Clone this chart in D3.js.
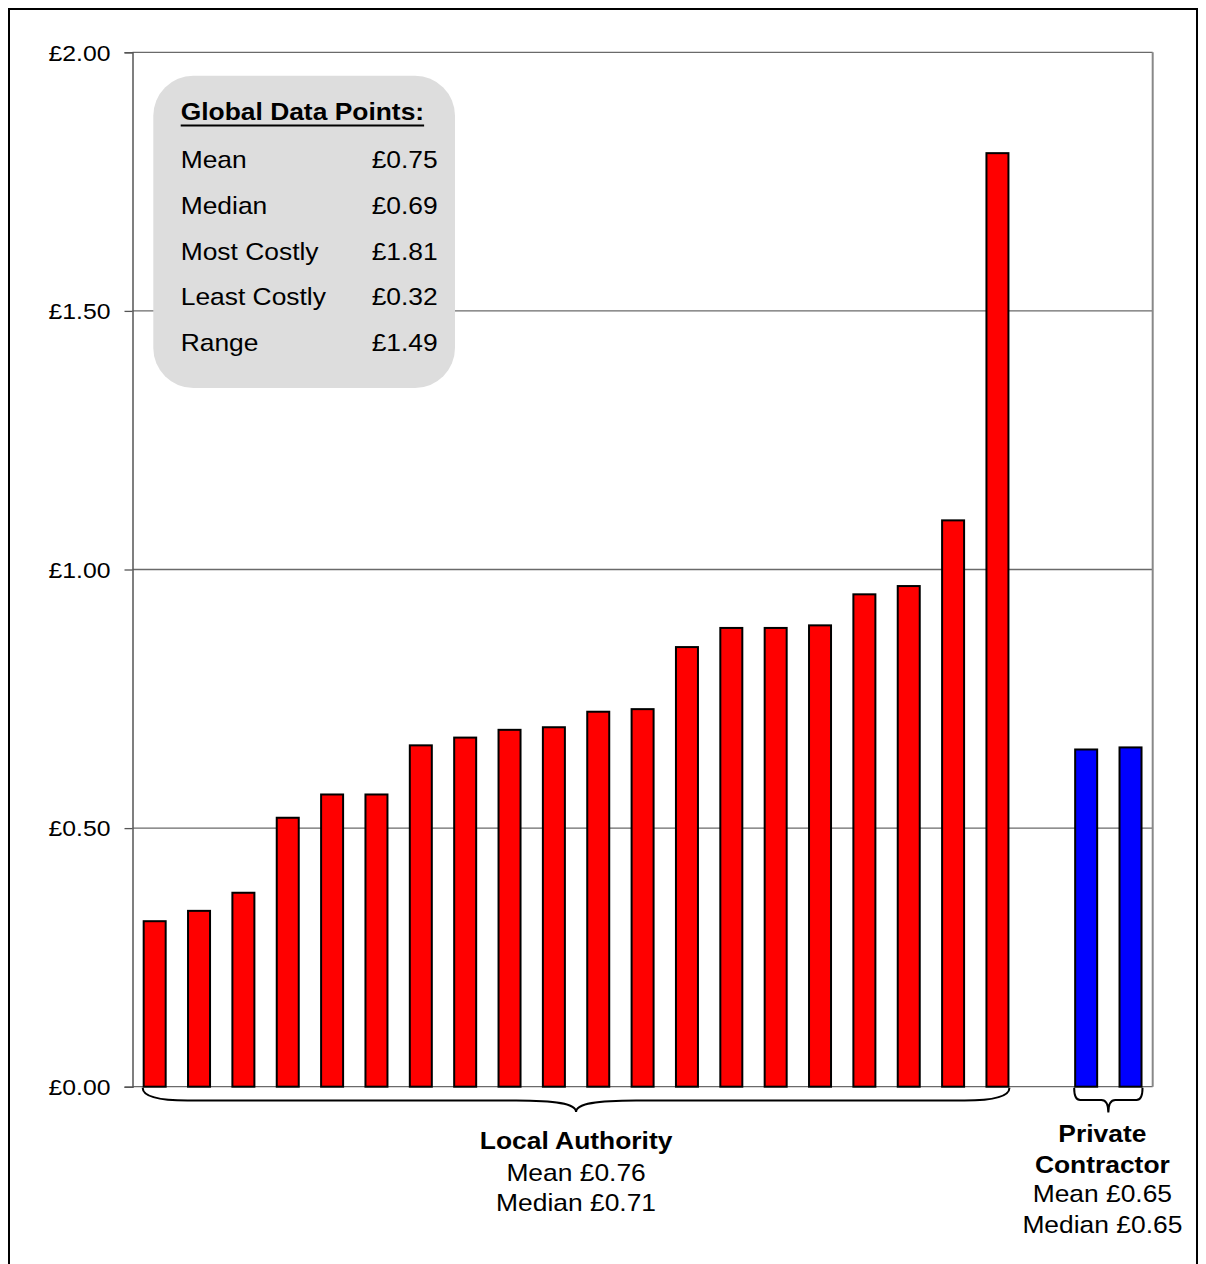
<!DOCTYPE html>
<html>
<head>
<meta charset="utf-8">
<script src="https://cdn.jsdelivr.net/npm/d3@7"></script>
<style>
  html, body { margin: 0; padding: 0; background: #fff; }
  svg { display: block; }
  text { font-family: "Liberation Sans", Arial, sans-serif; fill: #000; }
</style>
</head>
<body>
<svg id="chart" width="1206" height="1264"></svg>
<script>
// ---- data ----
const laCategories = ["LA1","LA2","LA3","LA4","LA5","LA6","LA7","LA8","LA9","LA10",
                      "LA11","LA12","LA13","LA14","LA15","LA16","LA17","LA18","LA19","LA20"];
const laValues = [0.32, 0.34, 0.375, 0.52, 0.565, 0.565, 0.66, 0.675, 0.69, 0.695,
                  0.725, 0.73, 0.85, 0.887, 0.887, 0.892, 0.952, 0.968, 1.095, 1.805];
const pcCategories = ["PC1","PC2"];
const pcValues = [0.652, 0.656];
const gapCategory = ["gap"];
const yTicks = [0, 0.5, 1.0, 1.5, 2.0];
const statLabels = ["Mean", "Median", "Most Costly", "Least Costly", "Range"];
const statValues = ["£0.75", "£0.69", "£1.81", "£0.32", "£1.49"];
const laSummary = ["Local Authority", "Mean £0.76", "Median £0.71"];
const pcSummary = ["Private", "Contractor", "Mean £0.65", "Median £0.65"];

// ---- layout ----
const SX = 1.1;
const plotL = 132.5, plotR = 1152.7, plotT = 52.3, plotB = 1086.7;
const svg = d3.select("#chart");

// outer border
svg.append("rect").attr("x", 9).attr("y", 9).attr("width", 1188).attr("height", 1300)
  .attr("fill", "none").attr("stroke", "#000").attr("stroke-width", 2);

const categories = laCategories.concat(gapCategory, pcCategories);
const x = d3.scaleBand().domain(categories).range([plotL, plotR])
  .paddingInner(0.504).paddingOuter(0.252);
const y = d3.scaleLinear().domain([0, 2]).range([plotB, plotT]);

function txt(sel, px, py, s, size, weight, anchor) {
  return sel.append("text")
    .attr("transform", `translate(${px},${py}) scale(${SX},1)`)
    .attr("text-anchor", anchor || "start")
    .style("font-size", size + "px")
    .style("font-weight", weight || "normal")
    .text(s);
}

// gridlines
svg.append("g").selectAll("line").data(yTicks).join("line")
  .attr("x1", plotL).attr("x2", plotR)
  .attr("y1", d => y(d)).attr("y2", d => y(d))
  .attr("stroke", "#6a6a6a").attr("stroke-width", 1.3);
// right border of plot
svg.append("line").attr("x1", plotR).attr("x2", plotR).attr("y1", y(2)).attr("y2", y(0))
  .attr("stroke", "#888").attr("stroke-width", 2);

// axis
const axis = svg.append("g").attr("transform", `translate(${plotL},0)`)
  .call(d3.axisLeft(y).tickValues(yTicks).tickSize(8).tickFormat(d => "£" + d.toFixed(2)));
axis.select(".domain").attr("stroke", "#555").attr("stroke-width", 1.5);
axis.selectAll(".tick line").attr("stroke", "#555").attr("stroke-width", 1.3);
axis.selectAll(".tick text")
  .attr("x", -22 / SX).attr("dy", "0.35em")
  .attr("transform", `scale(${SX},1)`)
  .style("font-size", "22.5px")
  .style("font-family", '"Liberation Sans", Arial, sans-serif')
  .attr("fill", "#000");

// info box
const box = svg.append("g");
box.append("rect").attr("x", 153.3).attr("y", 75.7).attr("width", 301.7).attr("height", 312.3)
  .attr("rx", 40).attr("ry", 40).attr("fill", "#dddddd");
const hdr = txt(box, 180.7, 120, "Global Data Points:", 24, "bold");
const hw = hdr.node().getComputedTextLength() * SX;
box.append("line").attr("x1", 180.7).attr("x2", 180.7 + hw).attr("y1", 125.5).attr("y2", 125.5)
  .attr("stroke", "#000").attr("stroke-width", 2);
statLabels.forEach((s, i) => {
  txt(box, 180.7, 168.3 + i * 45.6, s, 24, "normal", "start");
  txt(box, 437.7, 168.3 + i * 45.6, statValues[i], 24, "normal", "end");
});

// bars
const bw = x.bandwidth();
svg.append("g").selectAll("rect").data(laValues).join("rect")
  .attr("x", (d, i) => x(laCategories[i]))
  .attr("width", bw)
  .attr("y", d => y(d))
  .attr("height", d => y(0) - y(d))
  .attr("fill", "#ff0000").attr("stroke", "#000").attr("stroke-width", 2);
svg.append("g").selectAll("rect").data(pcValues).join("rect")
  .attr("x", (d, i) => x(pcCategories[i]))
  .attr("width", bw)
  .attr("y", d => y(d))
  .attr("height", d => y(0) - y(d))
  .attr("fill", "#0000ff").attr("stroke", "#000").attr("stroke-width", 2);

// braces
function bigBrace(x1, x2, y0, yh, ytip, r, tw) {
  const mid = (x1 + x2) / 2;
  return `M${x1},${y0} Q${x1},${yh} ${x1 + r},${yh} L${mid - tw},${yh} ` +
         `C${mid - tw * 0.35},${yh} ${mid},${yh + 3} ${mid},${ytip} ` +
         `C${mid},${yh + 3} ${mid + tw * 0.35},${yh} ${mid + tw},${yh} ` +
         `L${x2 - r},${yh} Q${x2},${yh} ${x2},${y0}`;
}
const laX1 = x(laCategories[0]) - 1, laX2 = x(laCategories[laCategories.length - 1]) + bw + 1;
svg.append("path").attr("d", bigBrace(laX1, laX2, y(0) + 1, 1100.5, 1112, 45, 60))
  .attr("fill", "none").attr("stroke", "#000").attr("stroke-width", 2);
const pcX1 = x(pcCategories[0]) - 1, pcX2 = x(pcCategories[1]) + bw + 1;
svg.append("path").attr("d", bigBrace(pcX1, pcX2, y(0) + 1, 1100, 1112.5, 6, 7))
  .attr("fill", "none").attr("stroke", "#000").attr("stroke-width", 2);

// group labels
const laMid = (laX1 + laX2) / 2;
txt(svg, laMid, 1149.3, laSummary[0], 24, "bold", "middle");
txt(svg, laMid, 1180.5, laSummary[1], 24, "normal", "middle");
txt(svg, laMid, 1210.5, laSummary[2], 24, "normal", "middle");
const pcMid = (pcX1 + pcX2) / 2 - 6;
txt(svg, pcMid, 1141.7, pcSummary[0], 24, "bold", "middle");
txt(svg, pcMid, 1172.7, pcSummary[1], 24, "bold", "middle");
txt(svg, pcMid, 1201.7, pcSummary[2], 24, "normal", "middle");
txt(svg, pcMid, 1232.7, pcSummary[3], 24, "normal", "middle");
</script>
</body>
</html>
